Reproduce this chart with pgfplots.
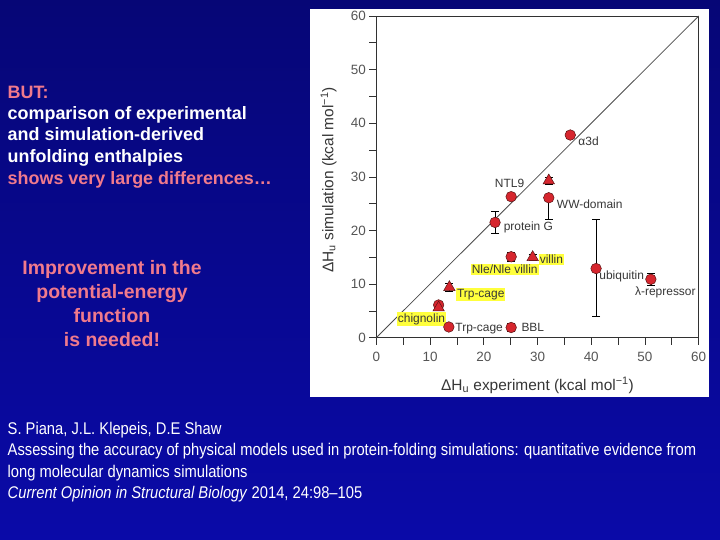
\documentclass[border=0pt]{standalone}
\usepackage{fontspec}
\setmainfont{Liberation Sans}
\newfontfamily\narrowfont[FakeStretch=0.87]{Liberation Sans}
\usepackage{pgfplots}
\pgfplotsset{compat=1.18}
\usepackage{pgfplotstable}

\definecolor{bgtop}{RGB}{6,6,118}
\definecolor{bgbot}{RGB}{10,10,168}
\definecolor{pinktxt}{RGB}{240,122,140}
\definecolor{ptred}{RGB}{214,38,46}
\definecolor{ptedge}{RGB}{90,20,20}
\definecolor{hlyellow}{RGB}{255,255,60}
\definecolor{axgray}{RGB}{50,50,50}
\definecolor{tickgray}{RGB}{85,85,85}
\definecolor{labgray}{RGB}{55,55,55}

\newcommand\tickfont{\fontsize{13.5}{15}\selectfont}
\newcommand\labfont{\fontsize{15.5}{18}\selectfont}
\newcommand\ptfont{\fontsize{12}{14}\selectfont}

% circles: x, y, error plus, error minus
\pgfplotstableread{
x    y    ep   em
36.1 37.8 0.7  0.7
25.1 26.3 0    0
32.1 26.1 0.3  4.1
22.1 21.5 2.0  2.0
25.1 15.1 0.9  0.9
11.6 6.1  0    0
13.5 2.0  0    0
25.1 1.9  0.7  0.7
40.9 12.9 9.1  9.0
51.1 10.9 1.1  1.1
}\circles

% triangles
\pgfplotstableread{
x    y    ep   em
32.1 29.3 0.7  0.7
29.1 15.0 0.5  0.5
13.6 9.4  0.7  0.7
11.6 5.6  0    0
}\triangles

\begin{document}
\begin{tikzpicture}
\shade[top color=bgtop, bottom color=bgbot] (0bp,0bp) rectangle (720bp,540bp);
\fill[white] (310bp,143bp) rectangle (709bp,531bp);

% slide text
\begin{scope}[every node/.style={anchor=base west, inner sep=0pt, font=\fontsize{18}{21}\selectfont\bfseries}]
\node[text=pinktxt] at (7.5bp,441bp) {BUT:};
\node[text=white] at (7.5bp,420.5bp) {comparison of experimental};
\node[text=white] at (7.5bp,399bp) {and simulation-derived};
\node[text=white] at (7.5bp,377bp) {unfolding enthalpies};
\node[text=pinktxt] at (7.5bp,355.5bp) {shows very large differences…};
\end{scope}
\begin{scope}[every node/.style={anchor=base, inner sep=0pt, text=pinktxt, font=\fontsize{19.5}{23}\selectfont\bfseries}]
\node at (112bp,265bp) {Improvement in the};
\node at (112bp,241.3bp) {potential-energy};
\node at (112bp,217.6bp) {function};
\node at (112bp,193.9bp) {is needed!};
\end{scope}
\begin{scope}[every node/.style={anchor=base west, inner sep=0pt, text=white, font=\fontsize{17}{19}\narrowfont}]
\node at (7.5bp,105.5bp) {S. Piana, J.L. Klepeis, D.E Shaw};
\node at (7.5bp,84bp) {Assessing the accuracy of physical models used in protein-folding simulations: quantitative evidence from};
\node at (7.5bp,62.7bp) {long molecular dynamics simulations};
\node at (7.5bp,41.4bp) {\itshape Current Opinion in Structural Biology\/\upshape\ 2014, 24:98–105};
\end{scope}

\begin{axis}[
  at={(376.3bp,202.3bp)}, anchor=south west,
  scale only axis, width=322.4bp, height=321.7bp,
  xmin=0, xmax=60, ymin=0, ymax=60,
  xtick={0,10,...,60}, ytick={0,10,...,60},
  minor tick num=1,
  tick align=outside, tick pos=left,
  major tick length=7bp, minor tick length=7bp,
  axis line style={axgray, line width=0.7pt},
  every tick/.style={axgray, line width=0.7pt},
  every minor tick/.style={axgray, line width=0.7pt},
  ticklabel style={font=\tickfont, text=tickgray},
  xticklabel style={yshift=-4bp},
  /pgf/number format/assume math mode=true,
  xlabel={ΔH\textsubscript{u} experiment (kcal mol\textsuperscript{−1})},
  ylabel={ΔH\textsubscript{u} simulation (kcal mol\textsuperscript{−1})},
  label style={font=\labfont, text=labgray},
  xlabel style={at={(axis description cs:0.5,-0.148)}, anchor=center},
  ylabel style={at={(axis description cs:-0.148,0.49)}, anchor=center},
  clip=false,
]
\addplot[gray!60!black, line width=0.8pt] coordinates {(0,0) (60,60)};

\addplot[only marks, mark=*, mark size=5.3bp,
  mark options={fill=ptred, draw=ptedge, line width=0.5pt},
  error bars/.cd, y dir=both, y explicit,
  error bar style={black, line width=0.7pt},
  error mark options={rotate=90, mark size=4bp, black, line width=0.7pt}]
  table[x=x, y=y, y error plus=ep, y error minus=em] {\circles};

\addplot[only marks, mark=triangle*, mark size=6.6bp,
  mark options={fill=ptred, draw=ptedge, line width=0.5pt},
  error bars/.cd, y dir=both, y explicit,
  error bar style={black, line width=0.7pt},
  error mark options={rotate=90, mark size=4bp, black, line width=0.7pt}]
  table[x=x, y=y, y error plus=ep, y error minus=em] {\triangles};

\begin{scope}[every node/.style={font=\ptfont, text=labgray, inner sep=1bp}]
\node[anchor=west] at (axis cs:37.4,36.6) {α3d};
\node[anchor=center] at (axis cs:24.8,28.8) {NTL9};
\node[anchor=west] at (axis cs:33.4,24.9) {WW-domain};
\node[anchor=west] at (axis cs:23.5,20.5) {protein G};
\node[anchor=west, fill=hlyellow] at (axis cs:30.2,14.6) {villin};
\node[anchor=center, fill=hlyellow] at (axis cs:23.9,12.7) {Nle/Nle villin};
\node[anchor=west] at (axis cs:41.3,11.4) {ubiquitin};
\node[anchor=center] at (axis cs:53.8,8.4) {λ-repressor};
\node[anchor=west, fill=hlyellow] at (axis cs:14.8,8.1) {Trp-cage};
\node[anchor=west, fill=hlyellow] at (axis cs:3.8,3.5) {chignolin};
\node[anchor=west] at (axis cs:14.5,1.6) {Trp-cage};
\node[anchor=west] at (axis cs:26.8,1.9) {BBL};
\end{scope}
\end{axis}
\end{tikzpicture}
\end{document}
